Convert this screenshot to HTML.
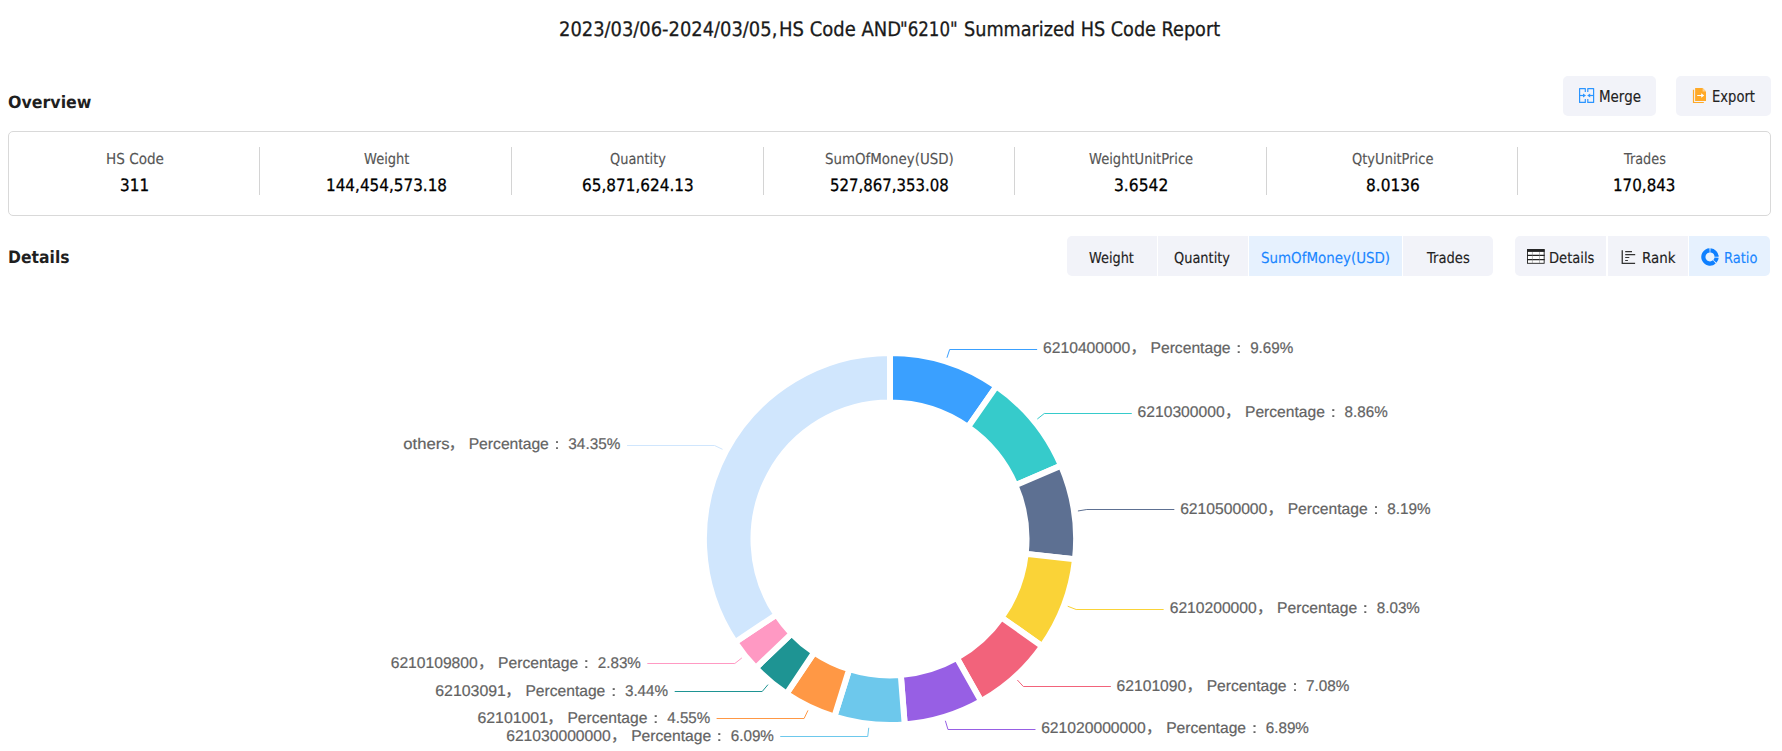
<!DOCTYPE html>
<html lang="en"><head><meta charset="utf-8"><title>Summarized HS Code Report</title>
<style>
*{box-sizing:border-box}
html,body{margin:0;padding:0;background:#fff}
body{width:1782px;height:751px;position:relative;overflow:hidden;font-family:"DejaVu Sans", "Liberation Sans", sans-serif;text-rendering:geometricPrecision}
h1{position:absolute;margin:0;font-size:20px;font-weight:normal}
h1 span,h2,.lab,.val,.btn span,.tab span{position:absolute;margin:0;white-space:nowrap;line-height:1;transform-origin:0 50%;display:block;-webkit-text-stroke:0.3px currentColor}
h2{-webkit-text-stroke:0 !important}
.lab,.btn span,.tab span{-webkit-text-stroke-width:0.15px}
.row{position:absolute;left:0;width:1782px}
.btn{position:absolute;top:0;height:40px;background:#f2f3f9;border:0;border-radius:5px;padding:0;margin:0;font-family:inherit}
.card{position:absolute;left:8px;top:131px;width:1763px;height:85px;border:1px solid #d9d9d9;border-radius:5px;background:#fff}
.stat{position:absolute;top:0;height:83px}
.card i{position:absolute;top:15px;width:1px;height:48px;background:#d4d4d4}
.tabs{position:absolute;top:0;height:40px;border-radius:5px;overflow:hidden;background:#fff}
.tab{position:absolute;top:0;height:40px;background:#f2f3f9}
.tab.on{background:#e6f1fe}
.ico{position:absolute;display:block}
.chart{position:absolute;left:0;top:290px;display:block}
</style></head>
<body>
<h1 style="left:0;top:0;width:1782px;height:56px;transform:none"><span style="left:558.73px;top:19px;font-size:20px;font-weight:normal;color:#1a1a1a;transform:scaleX(0.8943)">2023/03/06-2024/03/05,</span><span style="left:778.60px;top:19px;font-size:20px;font-weight:normal;color:#1a1a1a;transform:scaleX(0.8995)">HS Code AND</span><span style="left:900.37px;top:19px;font-size:20px;font-weight:normal;color:#1a1a1a;transform:scaleX(0.8331)">"6210"</span> <span style="left:964.02px;top:19px;font-size:20px;font-weight:normal;color:#1a1a1a;transform:scaleX(0.8824)">Summarized HS Code Report</span></h1>
<div class="row" style="top:76px;height:40px">
<h2 style="left:7.81px;top:19px;font-size:17px;font-weight:bold;color:#1f1f1f;transform:scaleX(0.9316)">Overview</h2>
<button class="btn" style="left:1563px;width:93px"><svg class="ico" style="left:16px;top:12px" width="16" height="16" viewBox="0 0 16 16"><g fill="none" stroke="#2b95ff" stroke-width="1.2" stroke-linejoin="round"><path d="M6.3 4V0.6H0.6V14.4H6.3V11"/><path d="M8.8 4V0.6H14.6V14.4H8.8V11"/><path d="M0.6 7.5H5"/><path d="M14.6 7.5H10.4"/></g><path d="M4 5.4L7 7.5L4 9.6Z" fill="#2b95ff"/><path d="M11.2 5.4L8.2 7.5L11.2 9.6Z" fill="#2b95ff"/></svg><span style="left:35.75px;top:14px;font-size:15px;font-weight:normal;color:#222;transform:scaleX(0.8950)">Merge</span></button>
<button class="btn" style="left:1676px;width:95px"><svg class="ico" style="left:16px;top:11px" width="16" height="17" viewBox="0 0 16 17"><path d="M1.5 2.8V15.5H11.8" fill="none" stroke="#ffa927" stroke-width="1.2"/><path d="M3.1 1H10.6L14 4.4V13.9H3.1Z" fill="#ffa927"/><path d="M10.6 1V4.4H14Z" fill="#ffd08a"/><path d="M5.2 7.9H9.2V6.2L12.2 8.5L9.2 10.8V9.1H5.2Z" fill="#fff"/></svg><span style="left:35.69px;top:14px;font-size:15px;font-weight:normal;color:#222;transform:scaleX(0.8748)">Export</span></button>
</div>
<div class="card">
<div class="stat" style="left:0.00px;width:251.57px"><span class="lab" style="left:96.89px;top:20px;font-size:15px;font-weight:normal;color:#555;transform:scaleX(0.9055)">HS Code</span><span class="val" style="left:111.20px;top:46px;font-size:17px;font-weight:normal;color:#000;transform:scaleX(0.8957)">311</span></div>
<div class="stat" style="left:251.57px;width:251.57px"><span class="lab" style="left:103.13px;top:20px;font-size:15px;font-weight:normal;color:#555;transform:scaleX(0.8697)">Weight</span><span class="val" style="left:65.12px;top:46px;font-size:17px;font-weight:normal;color:#000;transform:scaleX(0.8955)">144,454,573.18</span></div>
<div class="stat" style="left:503.14px;width:251.57px"><span class="lab" style="left:98.03px;top:20px;font-size:15px;font-weight:normal;color:#555;transform:scaleX(0.8630)">Quantity</span><span class="val" style="left:69.84px;top:46px;font-size:17px;font-weight:normal;color:#000;transform:scaleX(0.8990)">65,871,624.13</span></div>
<div class="stat" style="left:754.71px;width:251.57px"><span class="lab" style="left:61.41px;top:20px;font-size:15px;font-weight:normal;color:#555;transform:scaleX(0.8929)">SumOfMoney(USD)</span><span class="val" style="left:66.38px;top:46px;font-size:17px;font-weight:normal;color:#000;transform:scaleX(0.8794)">527,867,353.08</span></div>
<div class="stat" style="left:1006.29px;width:251.57px"><span class="lab" style="left:74.21px;top:20px;font-size:15px;font-weight:normal;color:#555;transform:scaleX(0.8722)">WeightUnitPrice</span><span class="val" style="left:98.67px;top:46px;font-size:17px;font-weight:normal;color:#000;transform:scaleX(0.9126)">3.6542</span></div>
<div class="stat" style="left:1257.86px;width:251.57px"><span class="lab" style="left:84.78px;top:20px;font-size:15px;font-weight:normal;color:#555;transform:scaleX(0.8690)">QtyUnitPrice</span><span class="val" style="left:98.67px;top:46px;font-size:17px;font-weight:normal;color:#000;transform:scaleX(0.9037)">8.0136</span></div>
<div class="stat" style="left:1509.43px;width:251.57px"><span class="lab" style="left:105.23px;top:20px;font-size:15px;font-weight:normal;color:#555;transform:scaleX(0.8566)">Trades</span><span class="val" style="left:94.82px;top:46px;font-size:17px;font-weight:normal;color:#000;transform:scaleX(0.8887)">170,843</span></div>
<i style="left:250px"></i>
<i style="left:502px"></i>
<i style="left:754px"></i>
<i style="left:1005px"></i>
<i style="left:1257px"></i>
<i style="left:1508px"></i>
</div>
<div class="row" style="top:236px;height:40px">
<h2 style="left:7.84px;top:14px;font-size:17px;font-weight:bold;color:#1f1f1f;transform:scaleX(0.9194)">Details</h2>
<div class="tabs" style="left:1067px;width:426px">
<div class="tab" style="left:0px;width:90px"><span style="left:21.93px;top:15px;font-size:15px;font-weight:normal;color:#222;transform:scaleX(0.8596)">Weight</span></div>
<div class="tab" style="left:91px;width:90px"><span style="left:16.32px;top:15px;font-size:15px;font-weight:normal;color:#222;transform:scaleX(0.8646)">Quantity</span></div>
<div class="tab on" style="left:182px;width:153px"><span style="left:12.38px;top:15px;font-size:15px;font-weight:normal;color:#1a86ff;transform:scaleX(0.8952)">SumOfMoney(USD)</span></div>
<div class="tab" style="left:336px;width:90px"><span style="left:24.43px;top:15px;font-size:15px;font-weight:normal;color:#222;transform:scaleX(0.8736)">Trades</span></div>
</div>
<div class="tabs" style="left:1515px;width:255px">
<div class="tab" style="left:0px;width:91px"><svg class="ico" style="left:12px;top:13px" width="18" height="15" viewBox="0 0 18 15"><g fill="none" stroke="#222"><rect x="0.45" y="0.6" width="16.7" height="13.7" stroke-width="0.9" fill="#fff"/><path d="M0 6.4H17.6M0 10.6H17.6" stroke-width="1.4"/><path d="M5.4 3V14M12.5 3V14" stroke-width="0.5" stroke="#777"/></g><rect x="0" y="0.2" width="17.6" height="2.7" fill="#222"/></svg><span style="left:33.85px;top:15px;font-size:15px;font-weight:normal;color:#222;transform:scaleX(0.8740)">Details</span></div>
<div class="tab" style="left:93px;width:80px"><svg class="ico" style="left:13px;top:14px" width="15" height="14" viewBox="0 0 15 14"><g fill="none" stroke="#333"><path d="M1.25 0.2V13.3H14.1" stroke-width="1.3"/><path d="M4.2 1.6H11M4.2 4.6H14.2M4.2 7.5H8.3M4.2 10.5H6.9" stroke-width="1.05"/></g></svg><span style="left:34.15px;top:15px;font-size:15px;font-weight:normal;color:#222;transform:scaleX(0.8958)">Rank</span></div>
<div class="tab on" style="left:174px;width:81px"><svg class="ico" style="left:11.7px;top:11.6px" width="18" height="18" viewBox="-9 -9 18 18"><g fill="none" stroke="#0f80ff" stroke-width="4.2"><path d="M0.4 -6.6A6.6 6.6 0 0 1 6.6 -0.2"/><path d="M6.6 0.6A6.6 6.6 0 0 1 4.95 4.35"/><path d="M4.35 4.95A6.6 6.6 0 1 1 -0.4 -6.6"/></g></svg><span style="left:34.56px;top:15px;font-size:15px;font-weight:normal;color:#1a86ff;transform:scaleX(0.8679)">Ratio</span></div>
</div>
</div>
<svg class="chart" width="1782" height="461" viewBox="0 290 1782 461">
<g stroke="#fff" stroke-width="6" stroke-linejoin="miter">
<path d="M890.00 352.90A186.1 186.1 0 0 1 996.43 386.34L968.07 427.03A136.5 136.5 0 0 0 890.00 402.50Z" fill="#3aa0ff"/>
<path d="M996.43 386.34A186.1 186.1 0 0 1 1061.03 465.63L1015.44 485.18A136.5 136.5 0 0 0 968.07 427.03Z" fill="#36cbcb"/>
<path d="M1061.03 465.63A186.1 186.1 0 0 1 1074.99 559.31L1025.69 553.89A136.5 136.5 0 0 0 1015.44 485.18Z" fill="#5d7092"/>
<path d="M1074.99 559.31A186.1 186.1 0 0 1 1042.12 646.20L1001.58 617.63A136.5 136.5 0 0 0 1025.69 553.89Z" fill="#fad337"/>
<path d="M1042.12 646.20A186.1 186.1 0 0 1 981.19 701.23L956.88 657.99A136.5 136.5 0 0 0 1001.58 617.63Z" fill="#f2637b"/>
<path d="M981.19 701.23A186.1 186.1 0 0 1 904.72 724.52L900.80 675.07A136.5 136.5 0 0 0 956.88 657.99Z" fill="#975fe4"/>
<path d="M904.72 724.52A186.1 186.1 0 0 1 834.39 716.60L849.21 669.26A136.5 136.5 0 0 0 900.80 675.07Z" fill="#6dc8ec"/>
<path d="M834.39 716.60A186.1 186.1 0 0 1 786.56 693.70L814.13 652.47A136.5 136.5 0 0 0 849.21 669.26Z" fill="#ff9845"/>
<path d="M786.56 693.70A186.1 186.1 0 0 1 755.79 667.92L791.56 633.56A136.5 136.5 0 0 0 814.13 652.47Z" fill="#1e9493"/>
<path d="M755.79 667.92A186.1 186.1 0 0 1 735.10 642.15L776.39 614.66A136.5 136.5 0 0 0 791.56 633.56Z" fill="#ff99c3"/>
<path d="M735.10 642.15A186.1 186.1 0 0 1 890.00 352.90L890.00 402.50A136.5 136.5 0 0 0 776.39 614.66Z" fill="#d0e6fd"/>
</g>
<g fill="none" stroke-width="1">
<polyline points="946.95,357.74 949.65,349.50 1037.15,349.50" stroke="#3aa0ff"/>
<polyline points="1037.31,419.00 1044.28,413.50 1131.78,413.50" stroke="#36cbcb"/>
<polyline points="1077.92,510.99 1086.83,509.50 1174.33,509.50" stroke="#5d7092"/>
<polyline points="1067.71,606.22 1076.13,609.50 1163.63,609.50" stroke="#fad337"/>
<polyline points="1017.34,680.01 1023.37,686.50 1110.87,686.50" stroke="#f2637b"/>
<polyline points="945.35,720.76 947.98,729.50 1035.48,729.50" stroke="#975fe4"/>
<polyline points="868.74,727.81 867.73,736.50 780.23,736.50" stroke="#6dc8ec"/>
<polyline points="807.97,710.38 804.08,718.50 716.58,718.50" stroke="#ff9845"/>
<polyline points="767.97,684.63 762.19,691.50 674.69,691.50" stroke="#1e9493"/>
<polyline points="741.83,657.94 734.81,663.50 647.31,663.50" stroke="#ff99c3"/>
<polyline points="722.51,449.30 714.57,445.50 627.07,445.50" stroke="#d0e6fd"/>
</g>
<g font-family='"Liberation Sans", "Noto Sans CJK SC", sans-serif' font-size="15.5" fill="#636363" stroke="#636363" stroke-width="0.2">
<text y="353.0"><tspan x="1043.08" textLength="87.03" lengthAdjust="spacingAndGlyphs">6210400000</tspan><tspan x="1130.40" font-family="Noto Sans CJK SC, Noto Sans CJK SC, sans-serif">，</tspan> <tspan x="1150.50" textLength="80.06" lengthAdjust="spacingAndGlyphs">Percentage</tspan> <tspan x="1230.96" font-family="WenQuanYi Zen Hei, Noto Sans CJK SC, sans-serif">：</tspan> <tspan x="1250.17" textLength="43.14" lengthAdjust="spacingAndGlyphs">9.69%</tspan></text>
<text y="417.0"><tspan x="1137.59" textLength="87.03" lengthAdjust="spacingAndGlyphs">6210300000</tspan><tspan x="1224.90" font-family="Noto Sans CJK SC, Noto Sans CJK SC, sans-serif">，</tspan> <tspan x="1244.99" textLength="79.85" lengthAdjust="spacingAndGlyphs">Percentage</tspan> <tspan x="1325.54" font-family="WenQuanYi Zen Hei, Noto Sans CJK SC, sans-serif">：</tspan> <tspan x="1344.62" textLength="43.04" lengthAdjust="spacingAndGlyphs">8.86%</tspan></text>
<text y="514.0"><tspan x="1180.13" textLength="87.19" lengthAdjust="spacingAndGlyphs">6210500000</tspan><tspan x="1267.60" font-family="Noto Sans CJK SC, Noto Sans CJK SC, sans-serif">，</tspan> <tspan x="1287.68" textLength="80.00" lengthAdjust="spacingAndGlyphs">Percentage</tspan> <tspan x="1368.21" font-family="WenQuanYi Zen Hei, Noto Sans CJK SC, sans-serif">：</tspan> <tspan x="1387.26" textLength="43.29" lengthAdjust="spacingAndGlyphs">8.19%</tspan></text>
<text y="613.0"><tspan x="1169.70" textLength="87.02" lengthAdjust="spacingAndGlyphs">6210200000</tspan><tspan x="1257.00" font-family="Noto Sans CJK SC, Noto Sans CJK SC, sans-serif">，</tspan> <tspan x="1277.13" textLength="79.97" lengthAdjust="spacingAndGlyphs">Percentage</tspan> <tspan x="1357.61" font-family="WenQuanYi Zen Hei, Noto Sans CJK SC, sans-serif">：</tspan> <tspan x="1376.78" textLength="43.06" lengthAdjust="spacingAndGlyphs">8.03%</tspan></text>
<text y="691.0"><tspan x="1116.62" textLength="69.56" lengthAdjust="spacingAndGlyphs">62101090</tspan><tspan x="1186.46" font-family="Noto Sans CJK SC, Noto Sans CJK SC, sans-serif">，</tspan> <tspan x="1206.65" textLength="79.89" lengthAdjust="spacingAndGlyphs">Percentage</tspan> <tspan x="1287.13" font-family="WenQuanYi Zen Hei, Noto Sans CJK SC, sans-serif">：</tspan> <tspan x="1306.03" textLength="43.37" lengthAdjust="spacingAndGlyphs">7.08%</tspan></text>
<text y="733.0"><tspan x="1041.13" textLength="104.63" lengthAdjust="spacingAndGlyphs">621020000000</tspan><tspan x="1146.04" font-family="Noto Sans CJK SC, Noto Sans CJK SC, sans-serif">，</tspan> <tspan x="1166.15" textLength="79.87" lengthAdjust="spacingAndGlyphs">Percentage</tspan> <tspan x="1246.65" font-family="WenQuanYi Zen Hei, Noto Sans CJK SC, sans-serif">：</tspan> <tspan x="1265.69" textLength="43.24" lengthAdjust="spacingAndGlyphs">6.89%</tspan></text>
<text y="741.0"><tspan x="506.20" textLength="104.52" lengthAdjust="spacingAndGlyphs">621030000000</tspan><tspan x="611.00" font-family="Noto Sans CJK SC, Noto Sans CJK SC, sans-serif">，</tspan> <tspan x="631.13" textLength="79.97" lengthAdjust="spacingAndGlyphs">Percentage</tspan> <tspan x="711.61" font-family="WenQuanYi Zen Hei, Noto Sans CJK SC, sans-serif">：</tspan> <tspan x="730.69" textLength="43.23" lengthAdjust="spacingAndGlyphs">6.09%</tspan></text>
<text y="723.0"><tspan x="477.41" textLength="70.63" lengthAdjust="spacingAndGlyphs">62101001</tspan><tspan x="547.30" font-family="Noto Sans CJK SC, Noto Sans CJK SC, sans-serif">，</tspan> <tspan x="567.44" textLength="79.91" lengthAdjust="spacingAndGlyphs">Percentage</tspan> <tspan x="647.95" font-family="WenQuanYi Zen Hei, Noto Sans CJK SC, sans-serif">：</tspan> <tspan x="667.34" textLength="42.88" lengthAdjust="spacingAndGlyphs">4.55%</tspan></text>
<text y="696.0"><tspan x="435.28" textLength="70.66" lengthAdjust="spacingAndGlyphs">62103091</tspan><tspan x="505.20" font-family="Noto Sans CJK SC, Noto Sans CJK SC, sans-serif">，</tspan> <tspan x="525.44" textLength="79.81" lengthAdjust="spacingAndGlyphs">Percentage</tspan> <tspan x="605.89" font-family="WenQuanYi Zen Hei, Noto Sans CJK SC, sans-serif">：</tspan> <tspan x="624.92" textLength="43.22" lengthAdjust="spacingAndGlyphs">3.44%</tspan></text>
<text y="668.0"><tspan x="390.70" textLength="87.02" lengthAdjust="spacingAndGlyphs">6210109800</tspan><tspan x="478.00" font-family="Noto Sans CJK SC, Noto Sans CJK SC, sans-serif">，</tspan> <tspan x="498.13" textLength="79.97" lengthAdjust="spacingAndGlyphs">Percentage</tspan> <tspan x="578.61" font-family="WenQuanYi Zen Hei, Noto Sans CJK SC, sans-serif">：</tspan> <tspan x="597.74" textLength="43.17" lengthAdjust="spacingAndGlyphs">2.83%</tspan></text>
<text y="449.0"><tspan x="403.38" textLength="46.23" lengthAdjust="spacingAndGlyphs">others</tspan><tspan x="448.68" font-family="Noto Sans CJK SC, Noto Sans CJK SC, sans-serif">，</tspan> <tspan x="468.67" textLength="80.19" lengthAdjust="spacingAndGlyphs">Percentage</tspan> <tspan x="549.28" font-family="WenQuanYi Zen Hei, Noto Sans CJK SC, sans-serif">：</tspan> <tspan x="568.35" textLength="51.96" lengthAdjust="spacingAndGlyphs">34.35%</tspan></text>
</g>
</svg>
</body></html>
